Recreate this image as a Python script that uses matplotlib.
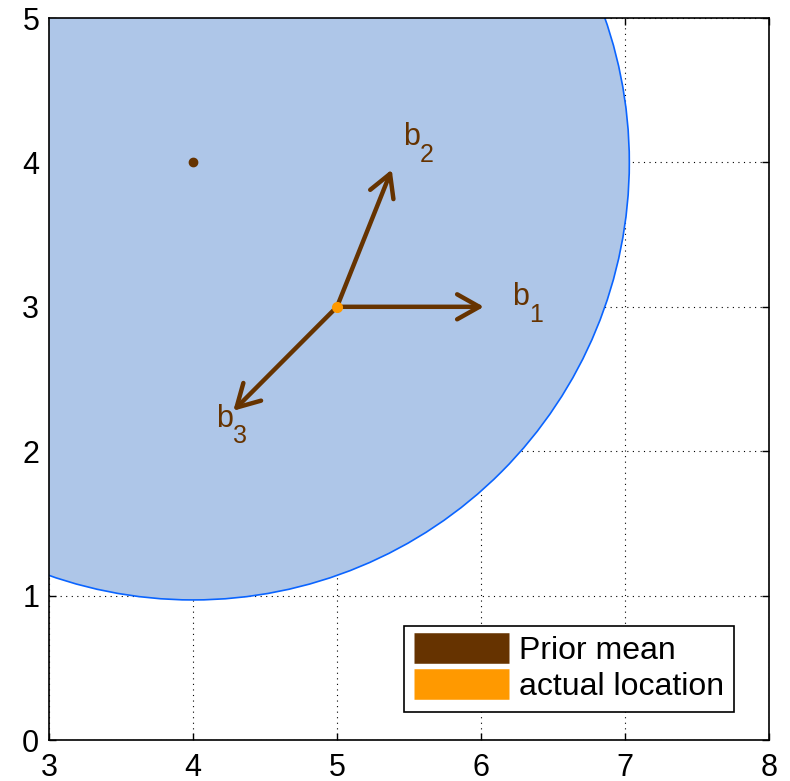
import matplotlib
matplotlib.use("Agg")
import matplotlib.pyplot as plt
from matplotlib.patches import Circle, FancyArrowPatch
from matplotlib.lines import Line2D

plt.rcParams['font.family'] = ['Liberation Sans', 'DejaVu Sans']

# data
prior_mean = (4.0, 4.0)
actual_location = (5.0, 3.0)
circle_radius = 3.03
vector_subscripts = ['1', '2', '3']
vector_ends_x = [6.02, 5.38, 4.28]
vector_ends_y = [3.0, 3.95, 2.28]
label_x = [6.215, 5.456, 4.16]
label_y = [3.01, 4.12, 2.17]
x_ticks = [3, 4, 5, 6, 7, 8]
y_ticks = [0, 1, 2, 3, 4, 5]
legend_labels = ['Prior mean', 'actual location']

brown = '#663300'
orange = '#ff9900'

fig = plt.figure(figsize=(7.9, 7.81), dpi=100)
ax = fig.add_axes([49/790, 41/781, 720/790, 722/781])
ax.set_xlim(3, 8)
ax.set_ylim(0, 5)
ax.set_xticks(x_ticks)
ax.set_yticks(y_ticks)
ax.tick_params(direction='in', labelsize=22, length=5, width=1, top=True, right=True)
ax.tick_params(axis='x', pad=9)
ax.tick_params(axis='y', pad=7)
for s in ax.spines.values():
    s.set_linewidth(1.2)
ax.set_axisbelow(True)
ax.grid(True, linestyle=(0, (1, 4)), color='black', linewidth=0.8)

circ = Circle(prior_mean, circle_radius, facecolor='#aec6e8', edgecolor='#0a64ff', linewidth=1.2, zorder=1)
ax.add_patch(circ)

for ex, ey in zip(vector_ends_x, vector_ends_y):
    arr = FancyArrowPatch(actual_location, (ex, ey), arrowstyle='->,head_length=0.8,head_width=0.45',
                          color=brown, linewidth=3.2, shrinkA=0, shrinkB=0, zorder=3,
                          mutation_scale=20)
    ax.add_patch(arr)

for sub, lx, ly in zip(vector_subscripts, label_x, label_y):
    ax.text(lx, ly, 'b', color=brown, fontsize=22, ha='left', va='baseline', zorder=4)
    ax.annotate(sub, (lx, ly), xytext=(12.5, -12), textcoords='offset points',
                color=brown, fontsize=18, ha='left', va='baseline', zorder=4)

ax.plot([prior_mean[0]], [prior_mean[1]], 'o', color=brown, markersize=6, zorder=5)
ax.plot([actual_location[0]], [actual_location[1]], 'o', color=orange, markersize=7, zorder=5)

handles = [Line2D([0], [0], color=brown, lw=22, solid_capstyle='butt'),
           Line2D([0], [0], color=orange, lw=22, solid_capstyle='butt')]
leg = ax.legend(handles, legend_labels, loc='lower right',
                bbox_to_anchor=(0.951, 0.039), fontsize=23, fancybox=False, framealpha=1,
                edgecolor='black', handlelength=3.0, borderpad=0.3, labelspacing=0.2,
                handletextpad=0.3, borderaxespad=0)
leg.get_frame().set_linewidth(1.2)

fig.savefig('out.png', dpi=100)
